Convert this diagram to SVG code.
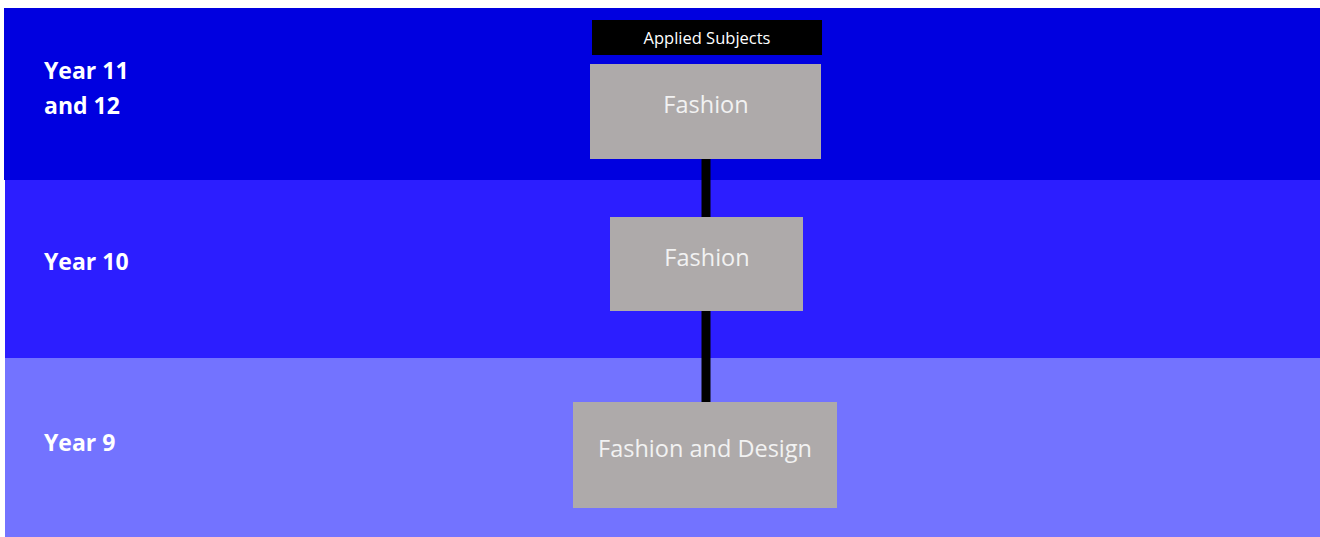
<svg xmlns="http://www.w3.org/2000/svg" width="1320" height="537" viewBox="0 0 1320 537">
<style>
.lbl{font-family:"Open Sans","Liberation Sans",sans-serif;font-weight:bold;font-size:23px;fill:#FFFFFF}
.box{fill:#AEAAAA}
.bt{font-family:"Open Sans","Liberation Sans",sans-serif;font-size:23.5px;fill:#F2F2F2;text-anchor:middle}
.conn{stroke:#000000;stroke-width:9;fill:none}
</style>
<rect x="0" y="0" width="1320" height="537" fill="#FFFFFF"/>
<g id="bands">
<rect x="4" y="8" width="1316" height="172" fill="#0000E0"/>
<rect x="5" y="180" width="1315" height="178" fill="#2C1EFF"/>
<rect x="5" y="358" width="1315" height="179" fill="#7373FF"/>
</g>
<g id="labels">
<text class="lbl" x="44" y="79">Year 11</text>
<text class="lbl" x="44" y="114">and 12</text>
<text class="lbl" x="44" y="270">Year 10</text>
<text class="lbl" x="44" y="451">Year 9</text>
</g>
<g id="connectors">
<line class="conn" x1="706" y1="159" x2="706" y2="217"/>
<line class="conn" x1="706" y1="311" x2="706" y2="402"/>
</g>
<g id="header">
<rect x="592" y="20" width="230" height="35" fill="#000000"/>
<text x="707" y="44" font-family="Open Sans, Liberation Sans, sans-serif" font-size="16.5" fill="#FFFFFF" text-anchor="middle">Applied Subjects</text>
</g>
<g id="node-y11">
<rect class="box" x="590" y="64" width="231" height="95"/>
<text class="bt" x="706" y="113">Fashion</text>
</g>
<g id="node-y10">
<rect class="box" x="610" y="217" width="193" height="94"/>
<text class="bt" x="707" y="266">Fashion</text>
</g>
<g id="node-y9">
<rect class="box" x="573" y="402" width="264" height="106"/>
<text class="bt" x="705" y="457">Fashion and Design</text>
</g>
</svg>
